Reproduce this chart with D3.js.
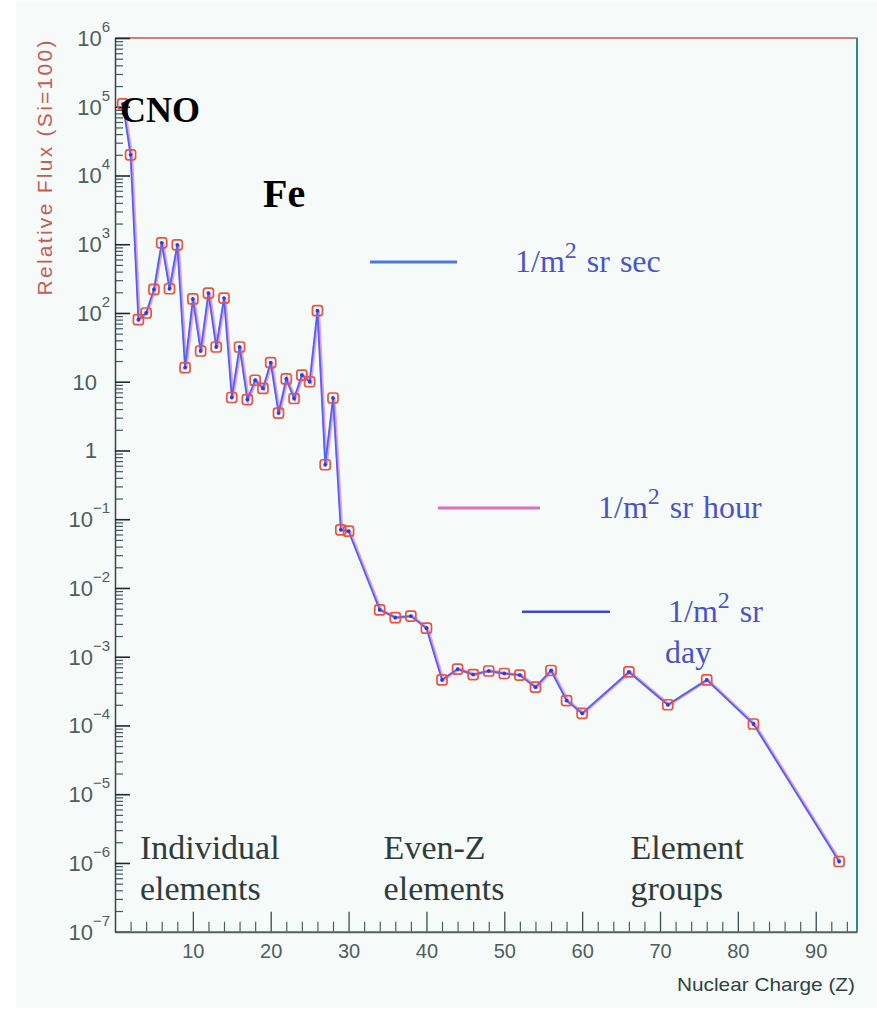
<!DOCTYPE html>
<html>
<head>
<meta charset="utf-8">
<script src="https://cdn.jsdelivr.net/npm/d3@7"></script>
<style>
  body { margin: 0; background: #ffffff; }
  svg { display: block; }
</style>
</head>
<body>
<svg id="chart" width="877" height="1010"></svg>
<script>
// Relative flux per element (Si = 100).
const charge = [1, 2, 3, 4, 5, 6, 7, 8, 9, 10, 11, 12, 13, 14, 15, 16, 17, 18, 19, 20,
    21, 22, 23, 24, 25, 26, 27, 28, 29, 30, 34, 36, 38, 40, 42, 44, 46, 48, 50, 52,
    54, 56, 58, 60, 66, 71, 76, 82, 93];
const flux = [1.1e5, 2.0e4, 80, 100, 220, 1050, 225, 980, 16, 160, 28, 195, 32, 165, 5.9, 32, 5.5, 10.5, 8, 19,
    3.5, 11, 5.7, 12.5, 10, 108, 0.62, 5.8, 0.07, 0.067, 0.0048, 0.0037, 0.0039, 0.0026, 4.6e-4, 6.6e-4, 5.5e-4, 6.2e-4, 5.7e-4, 5.4e-4,
    3.6e-4, 6.3e-4, 2.3e-4, 1.5e-4, 6.0e-4, 2.0e-4, 4.6e-4, 1.05e-4, 1.05e-6];

// Axis ticks and labels
const yExponents = [6, 5, 4, 3, 2, 1, 0, -1, -2, -3, -4, -5, -6, -7];
const xTickValues = [10, 20, 30, 40, 50, 60, 70, 80, 90];

// Rate levels drawn as short reference lines
const rateLabels = ["sec", "hour", "day"];
const rateLevels = [550, 0.146, 0.0045]; // height of each reference line

// Region labels along the bottom
const regionNames = [["Individual", "elements"], ["Even-Z", "elements"], ["Element", "groups"]];
const regionStart = [3.2, 34.5, 66.2];
const peakNames = ["CNO", "Fe"];

const svg = d3.select("#chart");
const plotLeft = 115, plotRight = 857, plotTop = 38, plotBottom = 931.7;

const x = d3.scaleLinear().domain([0, 95.3]).range([plotLeft, plotRight]);
const y = d3.scaleLog().domain([1e-7, 1e6]).range([plotBottom, plotTop]);

// panel background
svg.append("rect")
    .attr("x", 16).attr("y", 2)
    .attr("width", 861).attr("height", 1006)
    .attr("fill", "#f6faf8");

// frame: top in salmon, right in teal
svg.append("line")
    .attr("x1", plotLeft).attr("x2", plotRight).attr("y1", plotTop).attr("y2", plotTop)
    .attr("stroke", "#e07a74").attr("stroke-width", 2.2);
svg.append("line")
    .attr("x1", plotRight).attr("x2", plotRight).attr("y1", plotTop).attr("y2", plotBottom)
    .attr("stroke", "#2c8c8a").attr("stroke-width", 2);

// minor log ticks on y
const minorY = [];
for (let e = -7; e < 6; e++) {
    for (let m = 2; m < 10; m++) minorY.push(m * Math.pow(10, e));
}
const majorY = yExponents.map(e => Math.pow(10, e));

svg.append("g")
    .attr("transform", `translate(${plotLeft},0)`)
    .call(d3.axisLeft(y).tickValues(minorY).tickSize(-8).tickSizeOuter(0).tickFormat(""))
    .call(g => g.select(".domain").remove())
    .call(g => g.selectAll("line").attr("stroke", "#3f5b5a").attr("stroke-width", 1.2));

svg.append("g")
    .attr("transform", `translate(${plotLeft},0)`)
    .call(d3.axisLeft(y).tickValues(majorY).tickSize(-15).tickSizeOuter(0).tickFormat(""))
    .call(g => g.select(".domain").attr("stroke", "#3a4444").attr("stroke-width", 1.5))
    .call(g => g.selectAll("line").attr("stroke", "#1f2a2a").attr("stroke-width", 1.6));

// y tick labels, 10 with a raised exponent
const yLab = svg.append("g")
    .attr("font-family", "Liberation Sans, Arial, sans-serif")
    .attr("fill", "#4d5f5e");
yExponents.forEach(e => {
    const yy = y(Math.pow(10, e));
    if (e === 1 || e === 0) {
        yLab.append("text")
            .attr("x", 97).attr("y", yy + 8)
            .attr("text-anchor", "end")
            .attr("font-size", 22)
            .text(e === 1 ? "10" : "1");
    } else {
        const t = yLab.append("text")
            .attr("x", 110).attr("y", yy + 8)
            .attr("text-anchor", "end")
            .attr("font-size", 22);
        t.append("tspan").text("10");
        t.append("tspan").attr("dy", -14).attr("font-size", 15).text(e < 0 ? "\u2212" + (-e) : e);
    }
});

// x axis: ticks pointing up into the plot
const minorX = d3.range(2, 96, 2).filter(v => v % 10 !== 0);
svg.append("g")
    .attr("transform", `translate(0,${plotBottom})`)
    .call(d3.axisBottom(x).tickValues(minorX).tickSize(-10).tickSizeOuter(0).tickFormat(""))
    .call(g => g.select(".domain").remove())
    .call(g => g.selectAll("line").attr("stroke", "#4a6060").attr("stroke-width", 1.2));

svg.append("g")
    .attr("transform", `translate(0,${plotBottom})`)
    .call(d3.axisBottom(x).tickValues(xTickValues).tickSize(-20).tickSizeOuter(0).tickPadding(12))
    .call(g => g.select(".domain").attr("stroke", "#555f5f").attr("stroke-width", 2))
    .call(g => g.selectAll("line").attr("stroke", "#3a4c4c").attr("stroke-width", 1.3))
    .call(g => g.selectAll("text")
        .attr("font-family", "Liberation Sans, Arial, sans-serif")
        .attr("font-size", 20)
        .attr("fill", "#4d5f5e"));

// axis titles
svg.append("text")
    .attr("transform", "translate(52,168) rotate(-90)")
    .attr("text-anchor", "middle")
    .attr("font-family", "Liberation Sans, Arial, sans-serif")
    .attr("font-size", 21)
    .attr("fill", "#c85a52")
    .attr("textLength", 255)
    .attr("lengthAdjust", "spacing")
    .text("Relative Flux (Si=100)");

svg.append("text")
    .attr("x", 855).attr("y", 991)
    .attr("text-anchor", "end")
    .attr("font-family", "Liberation Sans, Arial, sans-serif")
    .attr("font-size", 19)
    .attr("fill", "#2f4242")
    .attr("textLength", 178)
    .attr("lengthAdjust", "spacingAndGlyphs")
    .text("Nuclear Charge (Z)");

// data line, with a pale magenta fringe under the blue
const points = charge.map((z, i) => ({ z: z, f: flux[i] }));
const line = d3.line().x(d => x(d.z)).y(d => y(d.f));

svg.append("path")
    .datum(points)
    .attr("d", line)
    .attr("fill", "none")
    .attr("stroke", "#e69be6")
    .attr("stroke-width", 3.2)
    .attr("transform", "translate(1,0)");
svg.append("path")
    .datum(points)
    .attr("d", line)
    .attr("fill", "none")
    .attr("stroke", "#4a66ee")
    .attr("stroke-width", 1.8);

// red open markers, blue dots at their centres
svg.append("g").selectAll("rect")
    .data(points)
    .join("rect")
    .attr("x", d => x(d.z) - 5)
    .attr("y", d => y(d.f) - 5)
    .attr("width", 10).attr("height", 10)
    .attr("rx", 2.5)
    .attr("fill", "none")
    .attr("stroke", "#f0503e")
    .attr("stroke-width", 1.7);
svg.append("g").selectAll("circle")
    .data(points)
    .join("circle")
    .attr("cx", d => x(d.z))
    .attr("cy", d => y(d.f))
    .attr("r", 1.9)
    .attr("fill", "#2a3ed8");

// rate reference lines with their labels
const rateLineX = [[370, 457], [438, 540], [522, 610]];
const rateColors = ["#4a78e2", "#de6fc0", "#3a4ad0"];
const rateTextX = [515, 598, 668];
const rates = svg.append("g");
rateLabels.forEach((lab, i) => {
    const yy = y(rateLevels[i]);
    rates.append("line")
        .attr("x1", rateLineX[i][0]).attr("x2", rateLineX[i][1])
        .attr("y1", yy).attr("y2", yy)
        .attr("stroke", rateColors[i]).attr("stroke-width", i === 2 ? 2.5 : 3);
    const t = rates.append("text")
        .attr("x", rateTextX[i]).attr("y", yy + 10)
        .attr("font-family", "Liberation Serif, Times New Roman, serif")
        .attr("font-size", 32)
        .attr("word-spacing", 2)
        .attr("fill", "#4a54c8");
    t.append("tspan").text("1/m");
    t.append("tspan").attr("dy", -14).attr("font-size", 24).text("2");
    if (lab === "day") {
        t.append("tspan").attr("dy", 14).text(" sr");
        rates.append("text")
            .attr("x", rateTextX[i] - 3).attr("y", yy + 51)
            .attr("font-family", "Liberation Serif, Times New Roman, serif")
            .attr("font-size", 32)
            .attr("fill", "#4a54c8")
            .text(lab);
    } else {
        t.append("tspan").attr("dy", 14).text(" sr " + lab);
    }
});

// bold peak names
const peakPos = [[120, 122, 36], [263, 207, 40]];
peakNames.forEach((name, i) => {
    svg.append("text")
        .attr("x", peakPos[i][0]).attr("y", peakPos[i][1])
        .attr("font-family", "Liberation Serif, Times New Roman, serif")
        .attr("font-weight", "bold")
        .attr("font-size", peakPos[i][2])
        .attr("fill", "#000000")
        .text(name);
});

// region names
regionNames.forEach((lines, i) => {
    lines.forEach((s, k) => {
        svg.append("text")
            .attr("x", x(regionStart[i]))
            .attr("y", 859 + k * 41)
            .attr("font-family", "Liberation Serif, Times New Roman, serif")
            .attr("font-size", 34)
            .attr("fill", "#2e3c3c")
            .text(s);
    });
});
</script>
</body>
</html>
